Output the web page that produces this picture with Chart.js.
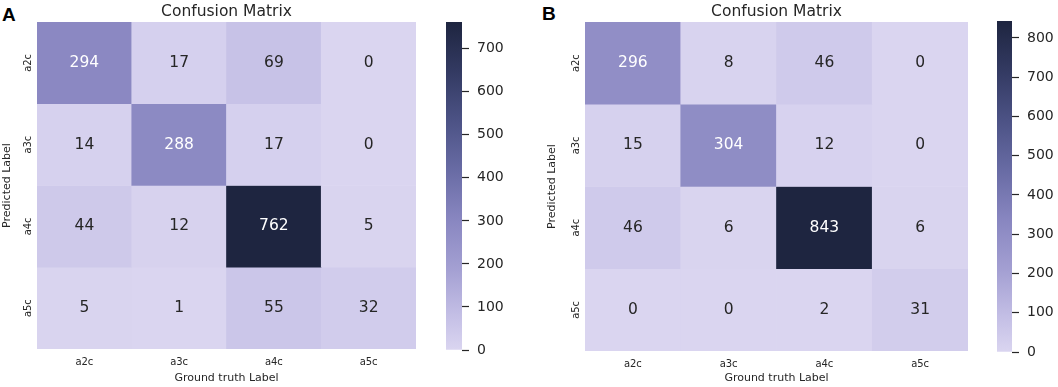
<!DOCTYPE html>
<html>
<head>
<meta charset="utf-8">
<script src="https://cdn.jsdelivr.net/npm/chart.js@4/dist/chart.umd.min.js"></script>
<style>
  body { margin: 0; background: #fff; width: 1058px; height: 387px; overflow: hidden; position: relative; }
  canvas { position: absolute; top: 0; }
  .panel-letter { position: absolute; font-family: "Liberation Sans", Arial, sans-serif; font-weight: bold; font-size: 19px; color: #000; }
</style>
</head>
<body>
<div class="panel-letter" style="left:2px; top:4px;">A</div>
<div class="panel-letter" style="left:542px; top:3px;">B</div>
<canvas id="heatA" width="416" height="387" style="left:0px"></canvas>
<canvas id="barA" width="62" height="387" style="left:446px"></canvas>
<canvas id="heatB" width="423" height="387" style="left:545px"></canvas>
<canvas id="barB" width="61" height="387" style="left:997px"></canvas>
<script>
// labels shared by both matrices
let classLabels = ['a2c', 'a3c', 'a4c', 'a5c'];

// confusion matrix A, one row per predicted label
let matrixA = [
  [294, 17, 69, 0],
  [14, 288, 17, 0],
  [44, 12, 762, 5],
  [5, 1, 55, 32]
];

// confusion matrix B
let matrixB = [
  [296, 8, 46, 0],
  [15, 304, 12, 0],
  [46, 6, 843, 6],
  [0, 0, 2, 31]
];

let textColor = '#262626';
let fontFamily = '"DejaVu Sans", sans-serif';

// light lavender -> purple -> dark navy
let paletteStops = [
  [0.00, [218, 213, 240]],
  [0.10, [197, 192, 230]],
  [0.25, [163, 159, 210]],
  [0.40, [136, 134, 192]],
  [0.55, [104, 107, 164]],
  [0.70, [76, 82, 133]],
  [0.85, [51, 58, 98]],
  [1.00, [30, 37, 64]]
];

function paletteColor(t) {
  t = Math.max(0, Math.min(1, t));
  for (let i = 1; i < paletteStops.length; i++) {
    if (t <= paletteStops[i][0]) {
      let a = paletteStops[i - 1], b = paletteStops[i];
      let f = (t - a[0]) / (b[0] - a[0]);
      let c = a[1].map((v, k) => Math.round(v + (b[1][k] - v) * f));
      return 'rgb(' + c.join(',') + ')';
    }
  }
  return 'rgb(' + paletteStops[paletteStops.length - 1][1].join(',') + ')';
}

function matrixMax(m) {
  let mx = 0;
  m.forEach(r => r.forEach(v => { if (v > mx) mx = v; }));
  return mx;
}

function makeHeatmap(id, matrix, yWidth, xHeight) {
  let maxVal = matrixMax(matrix);
  let datasets = matrix.map((row, i) => ({
    label: classLabels[i],
    data: row.map(() => 1),
    backgroundColor: row.map(v => paletteColor(v / maxVal)),
    borderWidth: 0,
    barPercentage: 1.0,
    categoryPercentage: 1.0
  }));

  // writes the counts in each cell and the row labels on the left
  let cellText = {
    id: 'cellText',
    afterDatasetsDraw(chart) {
      let ctx = chart.ctx;
      ctx.save();
      ctx.font = '15.5px ' + fontFamily;
      ctx.textAlign = 'center';
      ctx.textBaseline = 'middle';
      matrix.forEach((row, i) => {
        let meta = chart.getDatasetMeta(i);
        row.forEach((v, j) => {
          let el = meta.data[j];
          ctx.fillStyle = v / maxVal > 0.3 ? '#ffffff' : textColor;
          ctx.fillText(String(v), el.x, (el.y + el.base) / 2);
        });
      });
      let yScale = chart.scales.y;
      ctx.font = '10px ' + fontFamily;
      ctx.fillStyle = textColor;
      classLabels.forEach((lab, i) => {
        ctx.save();
        ctx.translate(yScale.right - 9, yScale.getPixelForValue(i + 0.5));
        ctx.rotate(-Math.PI / 2);
        ctx.fillText(lab, 0, 0);
        ctx.restore();
      });
      ctx.restore();
    }
  };

  return new Chart(document.getElementById(id), {
    type: 'bar',
    data: { labels: classLabels, datasets: datasets },
    options: {
      responsive: false,
      animation: false,
      layout: { padding: 0 },
      plugins: {
        legend: { display: false },
        tooltip: { enabled: false },
        title: {
          display: true,
          text: 'Confusion Matrix',
          fullSize: false,
          color: textColor,
          font: { family: fontFamily, size: 15.5, weight: 'normal', lineHeight: 1.2 },
          padding: { top: 2.4, bottom: 1 }
        }
      },
      scales: {
        x: {
          stacked: true,
          grid: { display: false, drawTicks: false },
          border: { display: false },
          ticks: { color: textColor, font: { family: fontFamily, size: 10 }, padding: 7 },
          title: {
            display: true,
            text: 'Ground truth Label',
            color: textColor,
            font: { family: fontFamily, size: 11 },
            padding: { top: 0, bottom: 2 }
          },
          afterFit(scale) { scale.height = xHeight; }
        },
        y: {
          type: 'linear',
          stacked: true,
          min: 0,
          max: classLabels.length,
          reverse: true,
          grid: { display: false, drawTicks: false },
          border: { display: false },
          ticks: { display: false },
          title: {
            display: true,
            text: 'Predicted Label',
            color: textColor,
            font: { family: fontFamily, size: 11 },
            padding: { top: 1, bottom: 0 }
          },
          afterFit(scale) { scale.width = yWidth; }
        }
      }
    },
    plugins: [cellText]
  });
}

function makeColorbar(id, maxVal, padTop, padBottom) {
  return new Chart(document.getElementById(id), {
    type: 'bar',
    data: {
      labels: [''],
      datasets: [{
        data: [[0, maxVal]],
        borderWidth: 0,
        barPercentage: 1.0,
        categoryPercentage: 1.0,
        backgroundColor(c) {
          let chart = c.chart;
          if (!chart.chartArea) return paletteColor(0.5);
          let y = chart.scales.y;
          let g = chart.ctx.createLinearGradient(0, y.getPixelForValue(0), 0, y.getPixelForValue(maxVal));
          paletteStops.forEach(s => g.addColorStop(s[0], paletteColor(s[0])));
          return g;
        }
      }]
    },
    options: {
      responsive: false,
      animation: false,
      layout: { padding: { top: padTop, bottom: padBottom, left: 0, right: 0 } },
      plugins: { legend: { display: false }, tooltip: { enabled: false } },
      scales: {
        x: { display: false },
        y: {
          position: 'right',
          min: 0,
          max: maxVal,
          grid: { display: true, drawOnChartArea: false, drawTicks: true, tickLength: 7, tickColor: textColor, tickWidth: 1.2, color: textColor },
          border: { display: false },
          ticks: { stepSize: 100, includeBounds: false, color: textColor, padding: 8, font: { family: fontFamily, size: 14 } },
          afterFit(scale) { scale.width = 46; }
        }
      }
    }
  });
}

makeHeatmap('heatA', matrixA, 37, 38);
makeColorbar('barA', matrixMax(matrixA), 22, 37);
makeHeatmap('heatB', matrixB, 40, 36);
makeColorbar('barB', matrixMax(matrixB), 21, 35);
</script>
</body>
</html>
